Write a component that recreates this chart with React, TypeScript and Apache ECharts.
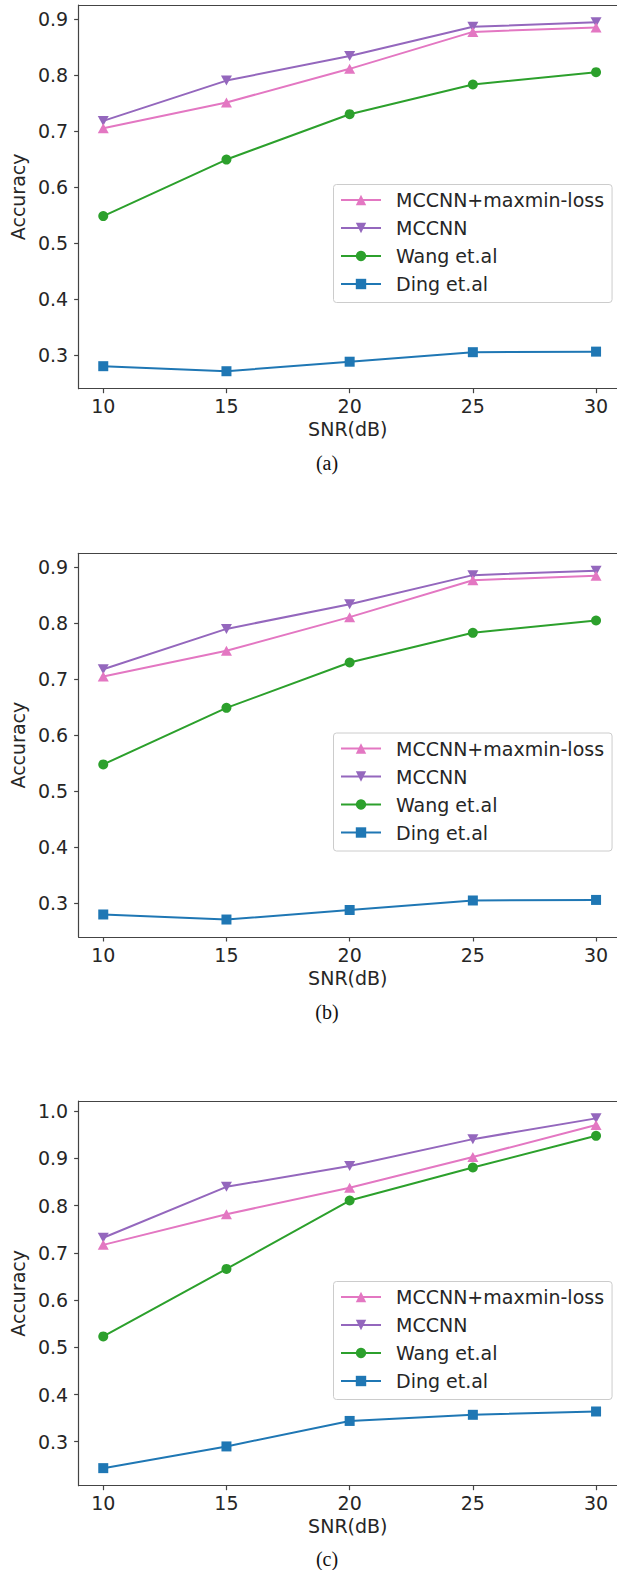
import React, { useEffect, useRef } from "react";
import * as echarts from "echarts";

const snr = [10, 15, 20, 25, 30];
const seriesNames = ["MCCNN+maxmin-loss", "MCCNN", "Wang et.al", "Ding et.al"];

// Panel (a)
const aMaxmin = [0.705, 0.751, 0.811, 0.877, 0.885];
const aMccnn = [0.718, 0.790, 0.834, 0.886, 0.894];
const aWang = [0.548, 0.649, 0.730, 0.783, 0.805];
const aDing = [0.280, 0.271, 0.288, 0.305, 0.306];
// Panel (b)
const bMaxmin = [0.705, 0.751, 0.811, 0.877, 0.885];
const bMccnn = [0.718, 0.790, 0.834, 0.886, 0.894];
const bWang = [0.548, 0.649, 0.730, 0.783, 0.805];
const bDing = [0.280, 0.271, 0.288, 0.305, 0.306];
// Panel (c)
const cMaxmin = [0.717, 0.782, 0.838, 0.903, 0.971];
const cMccnn = [0.732, 0.840, 0.884, 0.941, 0.985];
const cWang = [0.523, 0.666, 0.811, 0.881, 0.948];
const cDing = [0.244, 0.290, 0.344, 0.357, 0.364];

const yTicksAB = [0.3, 0.4, 0.5, 0.6, 0.7, 0.8, 0.9];
const yTicksC = [0.3, 0.4, 0.5, 0.6, 0.7, 0.8, 0.9, 1.0];
const captions = ["(a)", "(b)", "(c)"];

const colors = ["#e377c2", "#9467bd", "#2ca02c", "#1f77b4"];
const symbols = ["triangle", "triangle", "circle", "rect"];
const symbolRot = [0, 180, 0, 0];
const symbolSizes: any[] = [[11, 10], [11, 10], 10, 10];

const FONT = "DejaVu Sans";
const TXT = "#262626";
const SPINE = "#444";

export default function App() {
  const ref = useRef<HTMLDivElement>(null);
  useEffect(() => {
    if (!ref.current) return;
    const chart = echarts.init(ref.current, null, { renderer: "svg" });

    const panels = [
      { top: 5, bottom: 388.7, ymin: 0.2398, ymax: 0.925, yTicks: yTicksAB, data: [aMaxmin, aMccnn, aWang, aDing], legendTop: 184.5, cap: 463.3 },
      { top: 553.3, bottom: 937, ymin: 0.2398, ymax: 0.925, yTicks: yTicksAB, data: [bMaxmin, bMccnn, bWang, bDing], legendTop: 733, cap: 1011.7 },
      { top: 1101, bottom: 1485.7, ymin: 0.2068, ymax: 1.0218, yTicks: yTicksC, data: [cMaxmin, cMccnn, cWang, cDing], legendTop: 1281.5, cap: 1558.5 },
    ];

    const grids: any[] = [];
    const xAxes: any[] = [];
    const yAxes: any[] = [];
    const series: any[] = [];
    const legends: any[] = [];
    const graphics: any[] = [];

    panels.forEach((p, i) => {
      grids.push({ left: 72.8, width: 617 - 72.8, top: p.top, height: p.bottom - p.top, containLabel: false });
      xAxes.push({
        type: "value",
        gridIndex: i,
        min: 9,
        max: 30.85,
        name: "SNR(dB)",
        nameLocation: "middle",
        nameGap: 31,
        nameTextStyle: { fontFamily: FONT, fontSize: 19, color: TXT },
        axisLine: { show: true, lineStyle: { color: SPINE, width: 1.2 } },
        axisTick: { show: true, inside: false, length: 4.5, customValues: snr, lineStyle: { color: SPINE, width: 1.2 } },
        axisLabel: { show: true, customValues: snr, margin: 8, fontFamily: FONT, fontSize: 19, color: TXT, showMinLabel: true, showMaxLabel: true },
        splitLine: { show: false },
      });
      xAxes.push({
        type: "value",
        gridIndex: i,
        position: "top",
        min: 9,
        max: 30.85,
        axisLine: { show: true, lineStyle: { color: SPINE, width: 1.2 } },
        axisTick: { show: false },
        axisLabel: { show: false },
        splitLine: { show: false },
      });
      yAxes.push({
        type: "value",
        gridIndex: i,
        min: p.ymin,
        max: p.ymax,
        name: "Accuracy",
        nameLocation: "middle",
        nameGap: 46,
        nameTextStyle: { fontFamily: FONT, fontSize: 19, color: TXT },
        axisLine: { show: true, lineStyle: { color: SPINE, width: 1.2 } },
        axisTick: { show: true, inside: false, length: 4.5, customValues: p.yTicks, lineStyle: { color: SPINE, width: 1.2 } },
        axisLabel: {
          show: true,
          customValues: p.yTicks,
          margin: 10.5,
          fontFamily: FONT,
          fontSize: 19,
          color: TXT,
          formatter: (v: number) => v.toFixed(1),
        },
        splitLine: { show: false },
      });
      p.data.forEach((vals, k) => {
        series.push({
          type: "line",
          name: seriesNames[k],
          xAxisIndex: i * 2,
          yAxisIndex: i,
          data: snr.map((x, j) => [x, vals[j]]),
          symbol: symbols[k],
          symbolRotate: symbolRot[k],
          symbolSize: symbolSizes[k],
          showAllSymbol: true,
          lineStyle: { color: colors[k], width: 2 },
          itemStyle: { color: colors[k], borderWidth: 0 },
          z: 10 - k,
        });
      });
      legends.push({
        orient: "vertical",
        left: 333.5,
        top: p.legendTop,
        data: seriesNames,
        itemWidth: 40,
        itemHeight: 13,
        itemGap: 8,
        padding: [5.5, 8, 8.5, 6.5],
        borderColor: "#cccccc",
        borderWidth: 1,
        borderRadius: 3,
        backgroundColor: "rgba(255,255,255,0.8)",
        textStyle: { fontFamily: FONT, fontSize: 19, color: TXT, lineHeight: 20, padding: [0, 0, 0, 10] },
      });
      graphics.push({
        type: "text",
        style: {
          text: captions[i],
          x: 327,
          y: p.cap,
          textAlign: "center",
          textVerticalAlign: "middle",
          verticalAlign: "middle",
          fontFamily: "Liberation Serif",
          fontSize: 20,
          fill: "#111",
        },
      });
    });

    chart.setOption({
      animation: false,
      backgroundColor: "#ffffff",
      grid: grids,
      xAxis: xAxes,
      yAxis: yAxes,
      series,
      legend: legends,
      graphic: graphics,
    });
    return () => chart.dispose();
  }, []);
  return <div ref={ref} style={{ position: "absolute", left: 0, top: 0, width: 617, height: 1570 }} />;
}
